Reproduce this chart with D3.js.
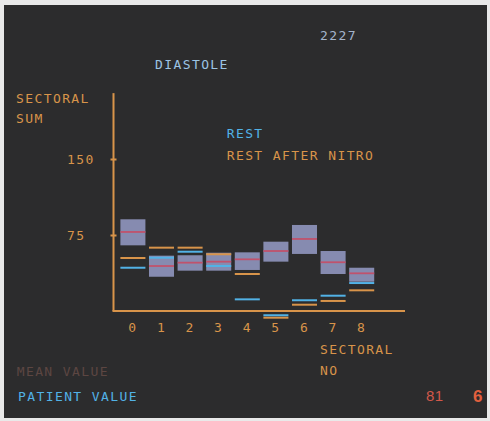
<!DOCTYPE html>
<html>
<head>
<meta charset="utf-8">
<script src="https://cdn.jsdelivr.net/npm/d3@7"></script>
<style>
  html, body { margin: 0; padding: 0; background: #e9e9e9; }
  svg { display: block; }
  text { font-family: "DejaVu Sans Mono", monospace; font-size: 13px; letter-spacing: 1.4px; }
</style>
</head>
<body>
<svg id="chart" width="490" height="421"></svg>
<script>
// Sector numbers along the horizontal axis
const sectors = ["0", "1", "2", "3", "4", "5", "6", "7", "8"];
// Normal range per sector: mean with upper and lower bounds of the shaded box
const meanValues = [78, 44.4, 47.7, 48.7, 51, 59.2, 71.1, 48.1, 37.2];
const boxHigh    = [90.5, 54.6, 55, 57.5, 57.9, 68.4, 84.9, 59.2, 42.7];
const boxLow     = [64.8, 33.8, 39.8, 39.8, 40.5, 48.7, 56.3, 36.5, 28.9];
// Patient values: at rest and at rest after nitro
const restValues  = [42.7, 52.6, 58.5, 44.4, 11.5, -4.2, 10.6, 15.1, 27.6];
const nitroValues = [52.3, 62.5, 62.5, 56, 36.5, -6.6, 6.2, 9.9, 20.4];
// Vertical axis ticks
const yTicks = [75, 150];
const yTop = 215;

const C = {
  bg: "#2c2c2d",
  orange: "#d8944a",
  blue: "#52b2e6",
  box: "#8e94bc",
  mean: "#c0526c",
  title: "#9cc4e4",
  code: "#a4b4cc",
  faint: "#5c4642",
  red: "#d2584a",
  red2: "#e2603e"
};

const svg = d3.select("#chart");
svg.append("rect").attr("x", 4).attr("y", 5).attr("width", 483).attr("height", 413).attr("fill", C.bg);

const axisX0 = 113.5, axisX1 = 405, base = 311;

const y = d3.scaleLinear().domain([0, 150]).range([base, 159]);
const x = d3.scaleBand().domain(sectors).range([118.6, 376]).paddingInner(0.125).paddingOuter(0.0625);

const rows = sectors.map((s, i) => ({
  s, mean: meanValues[i], hi: boxHigh[i], lo: boxLow[i], rest: restValues[i], nitro: nitroValues[i]
}));

// Axes
svg.append("line").attr("x1", axisX0).attr("x2", axisX0).attr("y1", y(0)).attr("y2", y(yTop))
  .attr("stroke", C.orange).attr("stroke-width", 2);
svg.append("line").attr("x1", axisX0 - 1).attr("x2", axisX1).attr("y1", y(0)).attr("y2", y(0))
  .attr("stroke", C.orange).attr("stroke-width", 2);

const yAxis = svg.append("g").attr("transform", `translate(${axisX0},0)`)
  .call(d3.axisLeft(y).tickValues(yTicks).tickSize(3).tickPadding(20));
yAxis.select(".domain").remove();
yAxis.selectAll(".tick line").attr("x1", -3).attr("x2", 3).attr("stroke", C.orange).attr("stroke-width", 2);
yAxis.selectAll(".tick text").attr("fill", C.orange).attr("text-anchor", "start")
  .attr("x", -46.5).attr("dy", "0.36em")
  .style("font-family", "DejaVu Sans Mono, monospace").style("font-size", "13px");

const xAxis = svg.append("g").attr("transform", `translate(0,${base})`)
  .call(d3.axisBottom(x).tickSize(0).tickPadding(12));
xAxis.select(".domain").remove();
xAxis.selectAll(".tick text").attr("fill", C.orange)
  .style("font-family", "DejaVu Sans Mono, monospace").style("font-size", "13px");

// Normal-range boxes
svg.append("g").selectAll("rect").data(rows).join("rect")
  .attr("x", d => x(d.s)).attr("width", x.bandwidth())
  .attr("y", d => y(d.hi)).attr("height", d => y(d.lo) - y(d.hi))
  .attr("fill", C.box).attr("opacity", 0.92);

// Mean lines
svg.append("g").selectAll("line").data(rows).join("line")
  .attr("x1", d => x(d.s)).attr("x2", d => x(d.s) + x.bandwidth())
  .attr("y1", d => y(d.mean)).attr("y2", d => y(d.mean))
  .attr("stroke", C.mean).attr("stroke-width", 1.8);

// Patient values
[["nitro", C.orange], ["rest", C.blue]].forEach(([key, col]) => {
  svg.append("g").selectAll("line").data(rows).join("line")
    .attr("x1", d => x(d.s)).attr("x2", d => x(d.s) + x.bandwidth())
    .attr("y1", d => y(d[key])).attr("y2", d => y(d[key]))
    .attr("stroke", col).attr("stroke-width", 2);
});

// Labels
const label = (t, xx, yy, col, extra) => {
  const el = svg.append("text").attr("x", xx).attr("y", yy).attr("fill", col).text(t);
  if (extra) extra(el);
  return el;
};
label("2227", 320, 40, C.code);
label("DIASTOLE", 155, 68.7, C.title);
label("SECTORAL", 16, 103, C.orange);
label("SUM", 16, 123, C.orange);
label("REST", 226.7, 138, C.blue);
label("REST AFTER NITRO", 226.7, 159.7, C.orange);
label("SECTORAL", 320, 354, C.orange);
label("NO", 320, 375.4, C.orange);
label("MEAN VALUE", 16.7, 375.7, C.faint);
label("PATIENT VALUE", 18, 401.4, C.blue);
label("81", 426, 401.4, C.red, el => el.style("font-family", "Liberation Sans, sans-serif").style("font-size", "15px").style("letter-spacing", "0.5px"));
label("6", 473, 401.5, C.red2, el => el.style("font-family", "Liberation Sans, sans-serif").style("font-size", "17px").style("font-weight", "bold").style("letter-spacing", "0"));
</script>
</body>
</html>
